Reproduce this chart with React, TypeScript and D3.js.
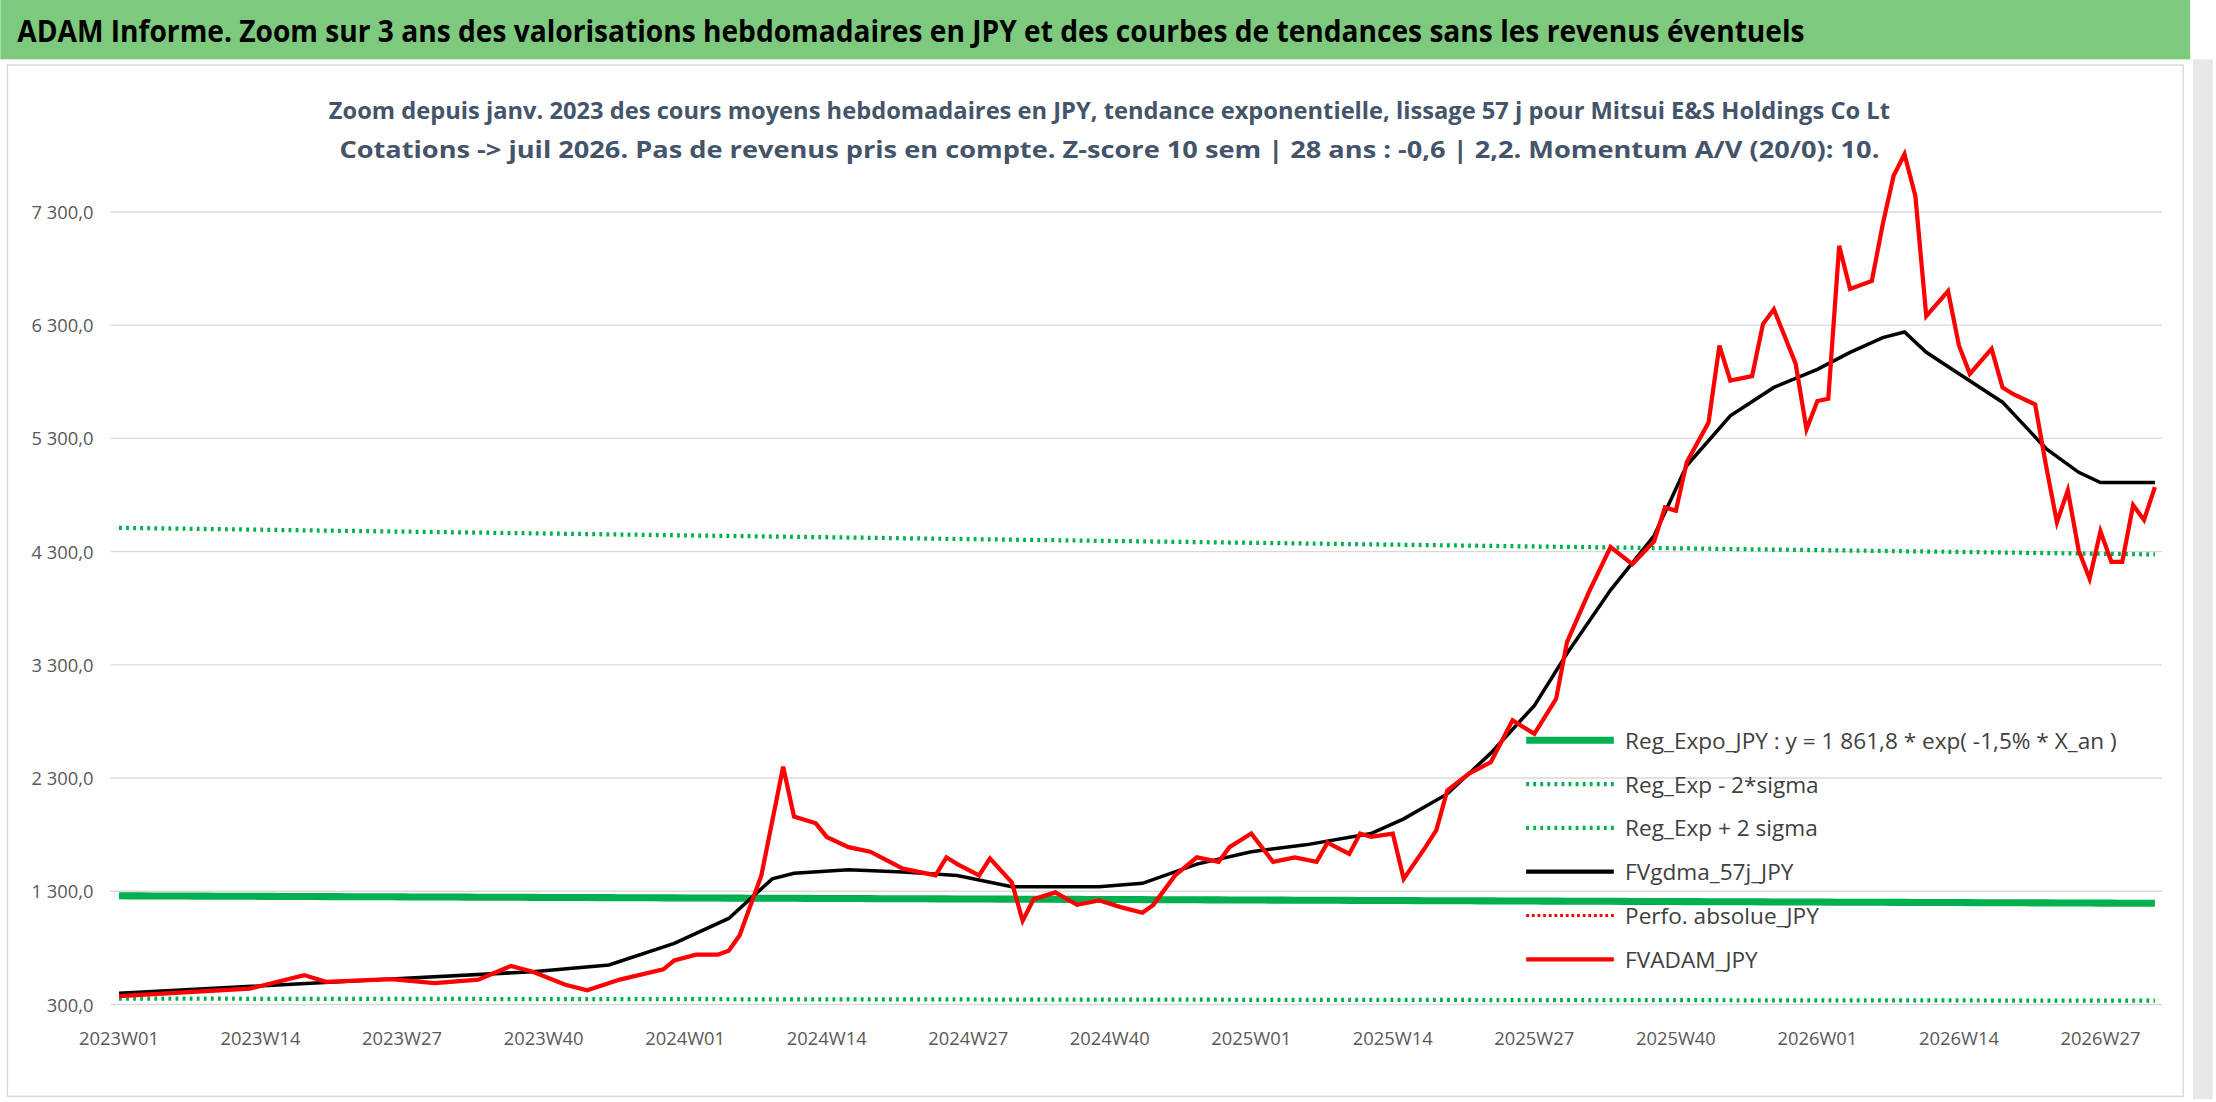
import React from "react";
import * as d3 from "d3";

const redW = [0,12,17,19,25,29,33,36,38,41,43,46,50,51,53,55,56,57,59,61,62,64,65,67,69,72,75,76,77,79,80,82,83,84,86,88,90,92,94,95,97,99,101,102,104,106,108,110,111,113,114,115,117,118,120,121,122,124,126,128,130,132,133,135,137,139,141,142,143,144,146,147,148,150,151,152,154,155,156,157,158,159,161,162,163,164,165,166,168,169,170,172,173,174,176,177,178,179,180,181,182,183,184,185,186,187];
const redV = [375,440,560,500,525,490,520,640,590,475,425,520,610,690,740,740,775,910,1440,2400,1960,1900,1780,1690,1650,1500,1440,1600,1540,1440,1590,1380,1040,1230,1290,1180,1220,1160,1110,1180,1440,1600,1560,1690,1810,1560,1600,1560,1730,1630,1810,1780,1810,1410,1690,1840,2190,2340,2440,2810,2690,3000,3500,3940,4340,4190,4390,4690,4660,5090,5440,6120,5810,5850,6310,6440,5960,5380,5630,5650,7000,6620,6690,7190,7620,7810,7440,6380,6600,6120,5870,6090,5750,5690,5600,5060,4560,4840,4310,4060,4480,4210,4210,4710,4580,4870];
const blackW = [0,25,38,45,51,56,60,62,67,72,77,82,90,94,99,104,109,115,118,122,126,130,133,137,141,144,148,152,156,159,162,164,166,169,173,177,180,182,187];
const blackV = [400,525,590,650,840,1060,1410,1460,1490,1470,1440,1340,1340,1370,1540,1650,1710,1810,1940,2160,2520,2940,3400,3960,4440,5060,5500,5750,5910,6060,6190,6240,6060,5870,5620,5210,5000,4910,4910];
const regStart = 1260, regEnd = 1194, lowStart = 352, lowEnd = 334, upStart = 4510, upEnd = 4275;
const lastW = 187;
const yTicks = [300,1300,2300,3300,4300,5300,6300,7300];
const xTickW = [0,13,26,39,52,65,78,91,104,117,130,143,156,169,182];
const xTickL = ["2023W01","2023W14","2023W27","2023W40","2024W01","2024W14","2024W27","2024W40","2025W01","2025W14","2025W27","2025W40","2026W01","2026W14","2026W27"];
const legend = [
  { label: "Reg_Expo_JPY : y = 1 861,8 * exp( -1,5% *  X_an )", c: "#00b050", w: 5, dash: "" },
  { label: "Reg_Exp - 2*sigma", c: "#00b050", w: 3, dash: "2,3" },
  { label: "Reg_Exp + 2 sigma", c: "#00b050", w: 3, dash: "2,3" },
  { label: "FVgdma_57j_JPY", c: "#000", w: 3, dash: "" },
  { label: "Perfo. absolue_JPY", c: "#ff0000", w: 2, dash: "2,2" },
  { label: "FVADAM_JPY", c: "#ff0000", w: 3, dash: "" },
];

export default function App() {
  const x = d3.scaleLinear().domain([0, lastW]).range([84, 1525]);
  const y = d3.scaleLinear().domain([300, 7300]).range([711, 150]);
  const line = d3.line<[number, number]>().x(d => x(d[0])).y(d => y(d[1]));
  const red = line(redW.map((w, i) => [w, redV[i]]));
  const black = line(blackW.map((w, i) => [w, blackV[i]]));
  const expLine = (a: number, b: number) => line(d3.range(0, lastW + 1).map(w => [w, a * Math.pow(b / a, w / lastW)] as [number, number]));
  const font = "'Open Sans', 'Liberation Sans', sans-serif";
  return (
    <svg width={2216} height={1102} viewBox="0 0 1568 780" style={{ position: "absolute", left: 0, top: 0, background: "#fff" }} fontFamily={font}>
      <rect x={0} y={0} width={1550} height={42} fill="#7dc97d" />
      <text x={12} y={30} fontSize={21} fontWeight="bold" fill="#000" textLength={1265} lengthAdjust="spacingAndGlyphs">ADAM Informe. Zoom sur 3 ans des valorisations hebdomadaires en JPY et des courbes de tendances sans les revenus éventuels</text>
      <rect x={5} y={46} width={1540} height={730} fill="#fff" stroke="#d9d9d9" />
      <rect x={1552} y={42} width={14} height={736} fill="#e8e8e8" />
      <text x={785} y={84} fontSize={17} fontWeight="bold" fill="#44546a" textAnchor="middle" textLength={1105} lengthAdjust="spacingAndGlyphs">Zoom depuis janv. 2023 des cours moyens hebdomadaires en JPY, tendance exponentielle, lissage 57 j pour Mitsui E&amp;S Holdings Co Lt</text>
      <text x={785} y={112} fontSize={17} fontWeight="bold" fill="#44546a" textAnchor="middle" textLength={1090} lengthAdjust="spacingAndGlyphs">Cotations -&gt; juil 2026. Pas de revenus pris en compte. Z-score 10 sem | 28 ans : -0,6 | 2,2. Momentum A/V (20/0): 10.</text>
      {yTicks.map(t => (
        <g key={t}>
          <line x1={78} x2={1530} y1={y(t)} y2={y(t)} stroke="#d9d9d9" />
          <text x={66} y={y(t) + 5} fontSize={13} fill="#595959" textAnchor="end">{d3.format(",.1f")(t).replace(",", " ").replace(".", ",")}</text>
        </g>
      ))}
      {xTickW.map((w, i) => (
        <text key={w} x={x(w)} y={740} fontSize={13} fill="#595959" textAnchor="middle">{xTickL[i]}</text>
      ))}
      <path d={expLine(lowStart, lowEnd) || ""} fill="none" stroke="#00b050" strokeWidth={3} strokeDasharray="2,3" />
      <path d={expLine(upStart, upEnd) || ""} fill="none" stroke="#00b050" strokeWidth={3} strokeDasharray="2,3" />
      <path d={expLine(regStart, regEnd) || ""} fill="none" stroke="#00b050" strokeWidth={5} />
      <path d={black || ""} fill="none" stroke="#000" strokeWidth={2.5} />
      <path d={red || ""} fill="none" stroke="#ff0000" strokeWidth={3} />
      {legend.map((l, i) => {
        const ly = 524 + i * 31;
        return (
          <g key={l.label}>
            <rect x={1078} y={ly - 13} width={460} height={26} fill="#fff" opacity={0.0} />
            <line x1={1080} x2={1142} y1={ly} y2={ly} stroke={l.c} strokeWidth={l.w} strokeDasharray={l.dash} />
            <text x={1150} y={ly + 6} fontSize={16} fill="#404040">{l.label}</text>
          </g>
        );
      })}
    </svg>
  );
}
